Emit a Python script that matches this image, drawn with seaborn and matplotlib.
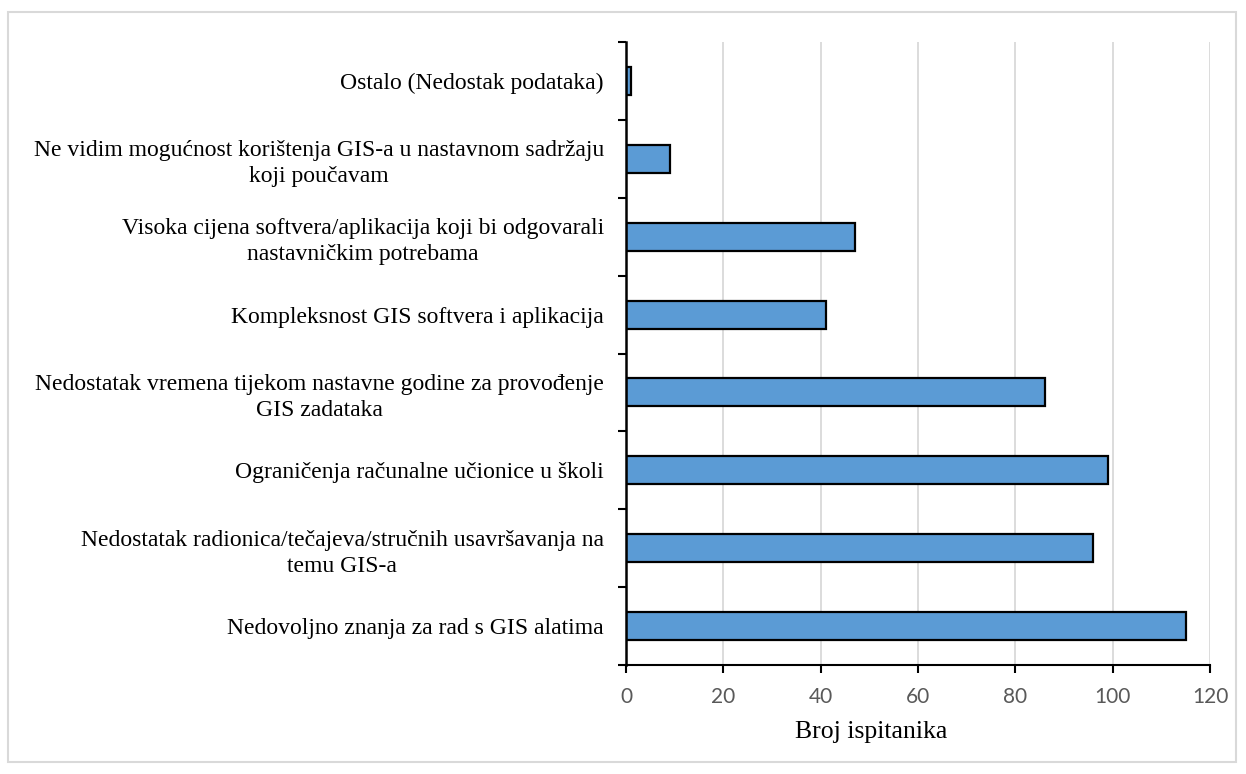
import pandas as pd
import seaborn as sns
import matplotlib.pyplot as plt
from matplotlib.patches import Rectangle
from matplotlib.ticker import FixedLocator

# Survey answers (top to bottom as shown in the chart)
categories = [
    "Ostalo (Nedostak podataka)",
    "Ne vidim mogućnost korištenja GIS-a u nastavnom sadržaju\nkoji poučavam",
    "Visoka cijena softvera/aplikacija koji bi odgovarali\nnastavničkim potrebama",
    "Kompleksnost GIS softvera i aplikacija",
    "Nedostatak vremena tijekom nastavne godine za provođenje\nGIS zadataka",
    "Ograničenja računalne učionice u školi",
    "Nedostatak radionica/tečajeva/stručnih usavršavanja na\ntemu GIS-a",
    "Nedovoljno znanja za rad s GIS alatima",
]
counts = [1, 9, 47, 41, 86, 99, 96, 115]
x_ticks = [0, 20, 40, 60, 80, 100, 120]

data = pd.DataFrame({"Odgovor": categories, "Broj": counts})

sns.set_theme(style="white")
plt.rcParams["font.family"] = ["Liberation Serif", "DejaVu Serif"]

fig = plt.figure(figsize=(12.46, 7.74), dpi=100)
ax = fig.add_axes([0.5024, 0.1408, 0.4687, 0.8049])

sns.barplot(data=data, x="Broj", y="Odgovor", orient="h", width=0.36,
            color="#5B9BD5", edgecolor="black", linewidth=1.6,
            saturation=1, ax=ax)

ax.set_xlim(0, 120)
ax.set_ylim(len(categories) - 0.5, -0.5)
ax.set_xticks(x_ticks)
ax.xaxis.grid(True, color="#d9d9d9", linewidth=1.3)
ax.set_axisbelow(True)

# category labels: right aligned to axis, lines centered
ax.tick_params(axis="y", which="major", length=0, pad=16, labelsize=17,
               labelcolor="black")
for lbl in ax.get_yticklabels():
    lbl.set_multialignment("center")
    lbl.set_linespacing(1.32)
ax.yaxis.set_minor_locator(FixedLocator([i - 0.5 for i in range(len(categories) + 1)]))
ax.tick_params(axis="y", which="minor", length=5.5, width=1.5, color="black", left=True)

ax.tick_params(axis="x", which="major", length=5.5, width=1.5, color="black",
               bottom=True, pad=10, labelsize=15, labelcolor="#595959")
for lbl in ax.get_xticklabels():
    lbl.set_fontfamily("Lato")

for side in ["top", "right"]:
    ax.spines[side].set_visible(False)
ax.spines["left"].set_color("black")
ax.spines["left"].set_linewidth(1.8)
ax.spines["bottom"].set_color("black")
ax.spines["bottom"].set_linewidth(1.5)

ax.set_ylabel("")
ax.set_xlabel("Broj ispitanika", fontsize=18.5, color="black", va="center")
ax.xaxis.set_label_coords(0.4195, -0.1075)

# light outer frame of the chart area
fig.patches.append(Rectangle((8 / 1246, 12 / 774), 1228 / 1246, 750 / 774,
                             transform=fig.transFigure, fill=False,
                             edgecolor="#d9d9d9", linewidth=1.5))

fig.savefig("out.png", dpi=100, facecolor="white")
